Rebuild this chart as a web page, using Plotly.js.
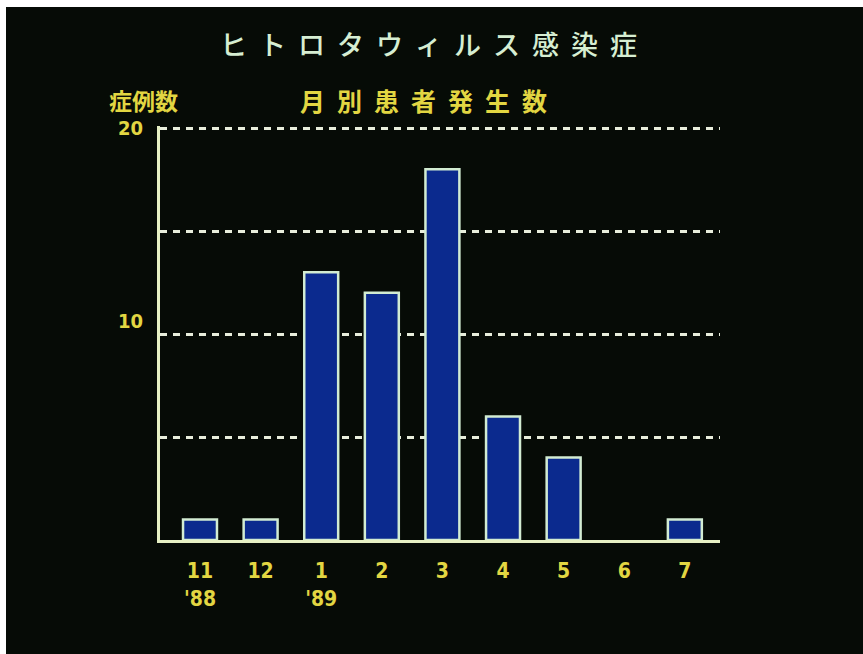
<!DOCTYPE html>
<html>
<head>
<meta charset="utf-8">
<script src="https://cdn.plot.ly/plotly-3.0.1.min.js"></script>
<style>
html,body{margin:0;padding:0;background:#ffffff;width:863px;height:654px;overflow:hidden;}
#chart{position:absolute;left:6px;top:7px;width:857px;height:647px;}
</style>
</head>
<body>
<div id="chart"></div>
<script>
// Data
const months = ["11<br>'88", "12", "1<br>'89", "2", "3", "4", "5", "6", "7"];
const cases = [1, 1, 13, 12, 18, 6, 4, 0, 1];
const yGridVals = [5, 10, 15, 20];
const yTickVals = [20, 10];
const yTickText = ["20", "10"];
const titleText = "ヒトロタウィルス感染症";
const subtitleText = "月別患者発生数";
const yLabelText = "症例数";

const yellow = "#e2d642";
const mint = "#d6eed2";
const fontFam = "'Noto Sans CJK JP', 'Noto Sans', sans-serif";
const numFam = "'DejaVu Sans Condensed', 'DejaVu Sans', sans-serif";

const idx = months.map((m, i) => i);

const trace = {
  type: "bar",
  x: idx,
  y: cases,
  marker: {color: "#0b2a8e", line: {color: "#d2ecd2", width: cases.map(v => v > 0 ? 2.5 : 0)}},
  hoverinfo: "skip"
};

const yShifts = [0, 13];
const annotations = yTickVals.map((v, i) => ({
  xref: "paper", yref: "y", x: -0.027, y: v, xanchor: "right", yanchor: "middle",
  yshift: yShifts[i], showarrow: false, text: "<b>" + yTickText[i] + "</b>",
  font: {family: numFam, size: 20, color: yellow}
}));
annotations.push({
  xref: "paper", yref: "paper", x: 0.482, y: 1.0, yshift: 26, xanchor: "center", yanchor: "middle",
  showarrow: false, text: '<span style="letter-spacing:12px"><b>' + subtitleText + '</b></span>',
  font: {family: fontFam, size: 25, color: yellow}
});
annotations.push({
  xref: "paper", yref: "paper", x: -0.03, y: 1.0, yshift: 26, xanchor: "center", yanchor: "middle",
  showarrow: false, text: '<span style="letter-spacing:0px"><b>' + yLabelText + '</b></span>',
  font: {family: fontFam, size: 23, color: yellow}
});

const layout = {
  width: 857, height: 647,
  paper_bgcolor: "#060b06",
  plot_bgcolor: "#060b06",
  margin: {l: 154, r: 143, t: 119, b: 114},
  showlegend: false,
  bargap: 0.44,
  title: {
    text: '<span style="letter-spacing:12px">' + titleText + '</span>',
    font: {family: fontFam, size: 27, color: mint, weight: 500},
    x: 0.5, xanchor: "center", y: 0.94, yanchor: "middle"
  },
  xaxis: {
    range: [-0.66, 8.58],
    tickmode: "array", tickvals: idx, ticktext: months.map(m => "<b>" + m + "</b>"),
    ticks: "", ticklabelstandoff: 10,
    tickfont: {family: numFam, size: 21, color: yellow},
    showline: true, linecolor: "#e6f0c4", linewidth: 3,
    showgrid: false, zeroline: false, fixedrange: true
  },
  yaxis: {
    range: [0, 20.1],
    tickmode: "array", tickvals: yGridVals,
    showticklabels: false, ticks: "",
    showgrid: true, gridcolor: "#e8eedc", gridwidth: 3, griddash: "7px,6px",
    showline: true, linecolor: "#e6f0c4", linewidth: 3,
    zeroline: false, fixedrange: true
  },
  annotations: annotations
};

Plotly.newPlot("chart", [trace], layout, {displayModeBar: false, staticPlot: true});
</script>
</body>
</html>
